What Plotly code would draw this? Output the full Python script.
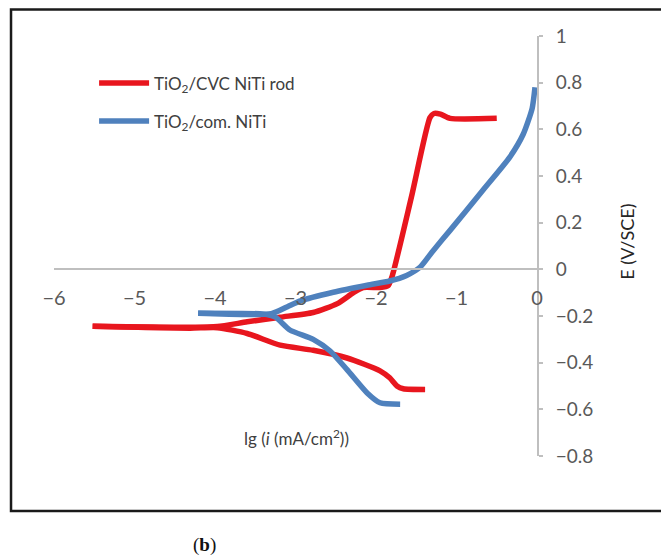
import plotly.graph_objects as go

# ---- data ----
red_name = "TiO<sub>2</sub>/CVC NiTi rod"
blue_name = "TiO<sub>2</sub>/com. NiTi"

red_cath_x = [-1.39, -1.66, -1.74, -1.83, -1.95, -2.36, -2.78, -3.19, -3.6, -3.97, -4.31, -5.52]
red_cath_y = [-0.515, -0.512, -0.50, -0.465, -0.435, -0.38, -0.347, -0.325, -0.275, -0.25, -0.252, -0.244]
red_anod_x = [-5.52, -4.31, -3.97, -3.6, -3.19, -2.78, -2.48, -2.28, -2.16, -1.95, -1.85, -1.80, -1.56, -1.33, -1.28, -1.2, -1.08, -0.5]
red_anod_y = [-0.244, -0.248, -0.245, -0.225, -0.205, -0.185, -0.147, -0.10, -0.078, -0.078, -0.07, -0.03, 0.31, 0.65, 0.668, 0.665, 0.647, 0.647]

blue_cath_x = [-1.70, -1.95, -2.11, -2.36, -2.57, -2.78, -3.07, -3.25, -3.4, -4.21]
blue_cath_y = [-0.578, -0.572, -0.53, -0.43, -0.35, -0.30, -0.26, -0.205, -0.192, -0.188]
blue_anod_x = [-4.21, -3.3, -3.1, -2.94, -2.53, -2.11, -1.83, -1.62, -1.45, -1.29, -1.08, -0.67, -0.34, -0.17, -0.06, -0.025]
blue_anod_y = [-0.188, -0.19, -0.16, -0.135, -0.098, -0.068, -0.05, -0.026, 0.01, 0.08, 0.167, 0.34, 0.48, 0.58, 0.69, 0.78]

x_ticks = [-6, -5, -4, -3, -2, -1, 0]
y_ticks = [-0.8, -0.6, -0.4, -0.2, 0, 0.2, 0.4, 0.6, 0.8, 1]

RED = "#E8161E"
BLUE = "#4F81BD"
FONT = "Lato"

fig = go.Figure()
line_kw = dict(width=5.5)
fig.add_trace(go.Scatter(x=red_cath_x, y=red_cath_y, mode="lines", name=red_name,
                         legendgroup="red", showlegend=False,
                         line=dict(color=RED, shape="spline", smoothing=0.6, **line_kw)))
fig.add_trace(go.Scatter(x=red_anod_x, y=red_anod_y, mode="lines", name=red_name,
                         legendgroup="red", showlegend=True,
                         line=dict(color=RED, shape="spline", smoothing=0.6, **line_kw)))
fig.add_trace(go.Scatter(x=blue_cath_x, y=blue_cath_y, mode="lines", name=blue_name,
                         legendgroup="blue", showlegend=False,
                         line=dict(color=BLUE, shape="spline", smoothing=0.6, **line_kw)))
fig.add_trace(go.Scatter(x=blue_anod_x, y=blue_anod_y, mode="lines", name=blue_name,
                         legendgroup="blue", showlegend=True,
                         line=dict(color=BLUE, shape="spline", smoothing=0.6, **line_kw)))

fig.update_layout(
    width=669, height=559,
    margin=dict(l=46, r=140, t=27.5, b=111.2),
    paper_bgcolor="white", plot_bgcolor="white",
    font=dict(family=FONT, color="#595959"),
    showlegend=True,
    legend=dict(x=0.083, y=0.93, xanchor="left", yanchor="top",
                traceorder="grouped", tracegroupgap=13, itemwidth=50,
                font=dict(size=17, color="#404040", family=FONT),
                bgcolor="rgba(0,0,0,0)"),
    xaxis=dict(range=[-6, 0], tickvals=x_ticks, showgrid=False, zeroline=False,
               anchor="free", position=0.8 / 1.8,
               showline=True, linecolor="#BFBFBF", linewidth=2,
               ticks="outside", ticklen=11, tickcolor="rgba(0,0,0,0)",
               tickfont=dict(size=20, color="#595959", family=FONT)),
    yaxis=dict(range=[-0.8, 1], tickvals=y_ticks, showgrid=False, zeroline=False,
               side="right", anchor="x",
               showline=True, linecolor="#BFBFBF", linewidth=2,
               ticks="outside", ticklen=4, tickcolor="#BFBFBF", tickwidth=1.5,
               ticklabelstandoff=9,
               tickfont=dict(size=19, color="#595959", family=FONT)),
    shapes=[dict(type="rect", xref="paper", yref="paper",
                 x0=-0.089, x1=1.3, y0=-0.131, y1=1.063,
                 line=dict(color="#1a1a1a", width=2.5), layer="below")],
    annotations=[
        dict(text="lg (<i>i</i> (mA/cm<sup>2</sup>))", xref="paper", yref="paper",
             x=0.503, y=0.045, xanchor="center", yanchor="middle", showarrow=False,
             font=dict(size=17, color="#404040", family=FONT)),
        dict(text="E (V/SCE)", xref="paper", yref="paper", x=1.186, y=0.51,
             xanchor="center", yanchor="middle",
             textangle=-90, showarrow=False,
             font=dict(size=18, color="#262626", family=FONT)),
        dict(text="(<b>b</b>)", xref="paper", yref="paper", x=0.3126, y=-0.212,
             xanchor="center", yanchor="middle", showarrow=False,
             font=dict(size=19, color="#111111", family="Liberation Serif")),
    ],
)

fig.write_html("out.html")
